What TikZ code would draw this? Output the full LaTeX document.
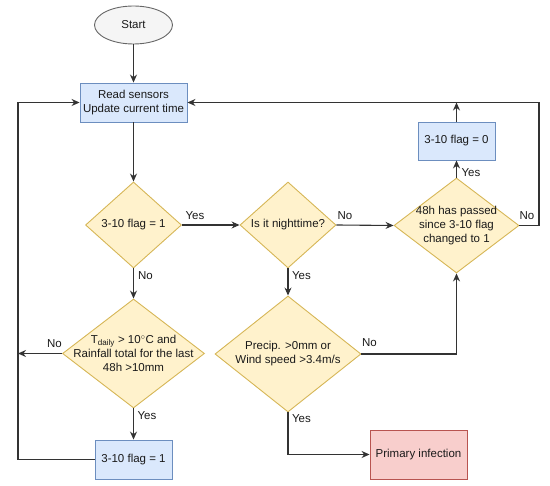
\documentclass[tikz,border=0pt]{standalone}
\usepackage{fontspec}
\setmainfont{Liberation Sans}
\usetikzlibrary{shapes.geometric,arrows.meta}
\definecolor{bfill}{HTML}{DAE8FC}\definecolor{bdraw}{HTML}{6C8EBF}
\definecolor{yfill}{HTML}{FFF2CC}\definecolor{ydraw}{HTML}{D6B656}
\definecolor{rfill}{HTML}{F8CECC}\definecolor{rdraw}{HTML}{B85450}
\definecolor{gfill}{HTML}{F5F5F5}\definecolor{gdraw}{HTML}{666666}
\definecolor{txt}{HTML}{1A1A1A}
\tikzset{
  base/.style={font=\fontsize{11.5}{14}\selectfont, text=txt, align=center, inner sep=0pt, line width=0.9pt},
  bluebox/.style={base, rectangle, fill=bfill, draw=bdraw},
  redbox/.style={base, rectangle, fill=rfill, draw=rdraw},
  startnode/.style={base, ellipse, fill=gfill, draw=gdraw},
  dia/.style={base, diamond, fill=yfill, draw=ydraw},
  dtext/.style={base},
  lab/.style={font=\fontsize{11.5}{14}\selectfont, text=txt, fill=white, inner sep=0.8pt},
  conn/.style={draw=black!80, line width=1.1pt},
  arr/.style={conn, -{Stealth[length=8pt,width=7pt]}}
}
\begin{document}
\begin{tikzpicture}[x=1pt,y=-1pt]
\useasboundingbox (0,0) rectangle (550,486);
\node[startnode, minimum width=78, minimum height=38] (start) at (133.5,25) {Start};
\node[bluebox, minimum width=107, minimum height=39] (read) at (133.5,102.5) {Read sensors\\Update current time};
\node[dia, minimum width=96, minimum height=86] (d1) at (133.5,225) {};
\node[dtext] at (d1) {3-10 flag = 1};
\node[dia, minimum width=96, minimum height=86] (d2) at (288,225) {};
\node[dtext] at (d2) {Is it nighttime?};
\node[dia, minimum width=125, minimum height=95] (d4) at (456.5,225.5) {};
\node[dtext] at (d4) {48h has passed\\since 3-10 flag\\changed to 1};
\node[bluebox, minimum width=77, minimum height=38] (f0) at (456.5,141) {3-10 flag = 0};
\node[dia, minimum width=142, minimum height=109] (d3) at (133.5,353.5) {};
\node[dtext] at (d3) {T\textsubscript{daily} > 10$^{\circ}$C and\\Rainfall total for the last\\48h >10mm};
\node[bluebox, minimum width=77, minimum height=39] (f1) at (133.5,459.5) {3-10 flag = 1};
\node[dia, minimum width=146, minimum height=116] (d5) at (288,354) {};
\node[dtext] at (d5) {Precip. >0mm or\\Wind speed >3.4m/s};
\node[redbox, minimum width=97, minimum height=49] (pi) at (418.5,454.5) {Primary infection};

\coordinate (topR) at (539,102.5);
\coordinate (botL) at (18,459.5);
\coordinate (midL) at (18,353.5);
\coordinate (topJ) at (456.5,102.5);

\draw[arr] (start) -- (read);
\draw[arr] (read) -- (d1);
\draw[arr] (d1.east) -- (d2.west);
\draw[arr] (d2.east) -- (d4.west);
\draw[arr] (d1.south) -- (d3.north);
\draw[arr] (d2.south) -- (d5.north);
\draw[arr] (d4.north) -- (f0.south);
\draw[arr] (f0.north) -- (topJ);
\draw[arr] (d4.east) -| (topR) -- (read.east);
\draw[arr] (d3.west) -- (midL);
\draw[arr] (f1.west) -- (botL) |- (read.west);
\draw[arr] (d3.south) -- (f1.north);
\draw[arr] (d5.south) |- (pi.west);
\draw[arr] (d5.east) -| (d4.south);

\node[lab] at (195,215.5) {Yes};
\node[lab] at (345,215.5) {No};
\node[lab] at (145.5,276) {No};
\node[lab] at (301.5,276) {Yes};
\node[lab] at (471,173) {Yes};
\node[lab] at (527,215.5) {No};
\node[lab] at (54.5,344) {No};
\node[lab] at (147,416) {Yes};
\node[lab] at (301.5,419) {Yes};
\node[lab] at (369.5,343) {No};
\end{tikzpicture}
\end{document}
